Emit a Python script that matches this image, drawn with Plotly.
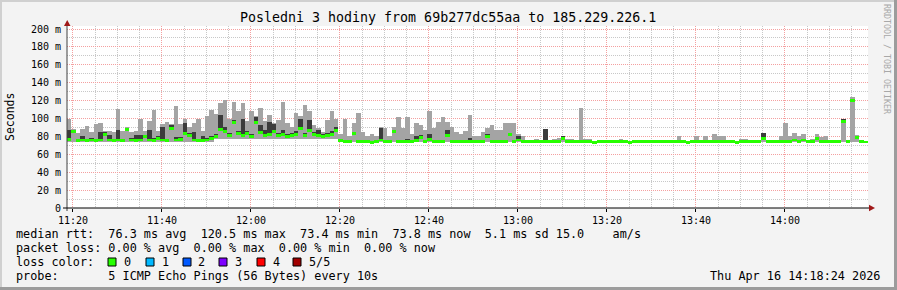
import numpy as np
import pandas as pd
import plotly.graph_objects as go

# ---------------- data ----------------
start_time = "2026-04-16 11:18:40"
end_time = "2026-04-16 14:18:40"

# median rtt per minute (ms)
median_ms = [
    77, 85, 75, 76, 75, 76, 75, 76, 82, 76,
    75, 76, 75, 88, 76, 75, 76, 80, 76, 75,
    78, 76, 75, 89, 76, 77, 83, 81, 76, 75,
    75, 76, 78, 80, 88, 85, 81, 96, 83, 81,
    83, 80, 96, 84, 81, 82, 85, 81, 82, 80,
    81, 82, 89, 81, 87, 82, 81, 80, 81, 82,
    87, 75, 74, 74, 83, 74, 74, 74, 73.5, 74,
    76, 74, 74, 85, 74, 74, 74, 74, 75, 79,
    74, 77, 74, 74, 74, 81, 74, 74, 74, 74,
    74, 74, 74, 74, 80, 74, 74, 74, 74, 82,
    74, 76, 74, 74, 74, 74, 74, 74, 74, 74,
    74, 78, 74, 74, 74, 74, 74, 74, 73.5, 74,
    74, 74, 74, 74, 74, 74, 73.5, 74, 74, 74,
    74, 74, 74, 74, 74, 74, 74, 74, 74, 73.5,
    74, 74, 74, 74, 74, 74, 74, 74, 74, 74,
    73.5, 74, 74, 74, 74, 74, 78, 74, 74, 74,
    74, 74, 74, 76, 74, 76, 74, 74, 78, 74,
    74, 74, 74, 74, 96.5, 74, 120.5, 79, 74, 73.8,
]

# highest ping per minute (top of light smoke)
smoke_max = [
    100, 88, 84, 88, 92, 85, 94, 95, 86, 86,
    85, 111, 86, 90, 85, 86, 99, 86, 97, 109,
    86, 94, 96, 94, 114, 94, 99, 90, 95, 100,
    86, 103, 110, 105, 117, 121, 99, 119, 108, 117,
    97, 108, 103, 112, 97, 104, 95, 98, 118, 95,
    91, 106, 103, 115, 108, 93, 89, 85, 98, 108,
    100, 83, 100, 81, 95, 106, 85, 80, 83, 80,
    91, 89, 80, 90, 102, 89, 102, 83, 95, 93,
    87, 108, 89, 96, 102, 96, 91, 85, 83, 86,
    104, 81, 80, 85, 89, 93, 87, 87, 95, 95,
    95, 83, 80, 76, 76, 77, 76, 88, 76, 77,
    78, 81, 77, 77, 76, 112, 77, 77, 75, 75,
    75, 75, 76, 75, 77, 75, 75, 75, 75, 75,
    76, 75, 75, 75, 75, 75, 75, 80, 76, 75,
    75, 80, 75, 80, 76, 83, 80, 80, 76, 75,
    75, 77, 77, 75, 75, 76, 84, 75, 75, 76,
    80, 95, 80, 84, 80, 83, 76, 77, 83, 79,
    80, 75, 75, 76, 100, 76, 124, 82, 75, 75,
]

# upper edge of the dark (inner) smoke band
smoke_inner = [
    87, 86, 77, 80, 77, 78, 77, 85, 85, 82,
    77, 87, 77, 89, 78, 82, 82, 82, 87, 78,
    80, 91, 77, 93, 79, 79, 95, 84, 85, 77,
    81, 78, 80, 83, 104, 90, 84, 98, 86, 100,
    86, 83, 102, 93, 87, 96, 94, 84, 87, 83,
    84, 86, 100, 84, 98, 85, 87, 83, 84, 86,
    91, 76, 75, 75, 85, 76, 75, 75, 75, 75,
    89, 76, 75, 87, 76, 75, 77, 75, 81, 82,
    75, 83, 75, 76, 76, 87, 75, 75, 75, 76,
    78, 75, 75, 76, 83, 76, 75, 76, 76, 83,
    76, 80, 75, 74.5, 74.5, 74.5, 74.5, 88, 74.5, 74.5,
    74.5, 81, 74.5, 74.5, 74.5, 74.5, 74.5, 74.5, 74.5, 74.5,
    74.5, 74.5, 74.5, 74.5, 74.5, 74.5, 74.5, 74.5, 74.5, 74.5,
    74.5, 74.5, 74.5, 74.5, 74.5, 74.5, 74.5, 74.5, 74.5, 74.5,
    74.5, 74.5, 74.5, 74.5, 74.5, 74.5, 74.5, 74.5, 74.5, 74.5,
    74.5, 74.5, 74.5, 74.5, 74.5, 74.5, 84, 74.5, 74.5, 74.5,
    74.5, 76, 74.5, 77, 74.5, 77, 74.5, 74.5, 79, 74.5,
    74.5, 74.5, 74.5, 74.5, 99, 74.5, 122, 80, 74.5, 74.5,
]

# lowest ping per minute (bottom of smoke)
smoke_min = [
    73.8, 73.8, 73.8, 73.8, 73.8, 73.8, 73.8, 73.8, 73.8, 73.8,
    73.8, 73.8, 73.8, 73.8, 73.8, 73.8, 73.8, 73.8, 73.8, 73.8,
    73.8, 73.8, 73.8, 73.8, 73.8, 73.8, 73.8, 73.8, 73.8, 73.8,
    73.8, 73.8, 73.8, 77.5, 77.5, 77.5, 77.5, 77.5, 77.5, 77.5,
    77.5, 77.5, 77.5, 77.5, 77.5, 77.5, 77.5, 77.5, 77.5, 77.5,
    77.5, 77.5, 77.5, 77.5, 77.5, 77.5, 77.5, 77.5, 77.5, 77.5,
    77.5, 73.4, 73.4, 73.4, 73.4, 73.4, 73.4, 73.4, 73.4, 73.4,
    73.4, 73.4, 73.4, 73.4, 73.4, 73.4, 73.4, 73.4, 73.4, 73.4,
    73.4, 73.4, 73.4, 73.4, 73.4, 73.4, 73.4, 73.4, 73.4, 73.4,
    73.4, 73.4, 73.4, 73.4, 73.4, 73.4, 73.4, 73.4, 73.4, 73.4,
    73.4, 73.4, 73.4, 73.4, 73.4, 73.4, 73.4, 73.4, 73.4, 73.4,
    73.4, 73.4, 73.4, 73.4, 73.4, 73.4, 73.4, 73.4, 73.4, 73.4,
    73.4, 73.4, 73.4, 73.4, 73.4, 73.4, 73.4, 73.4, 73.4, 73.4,
    73.4, 73.4, 73.4, 73.4, 73.4, 73.4, 73.4, 73.4, 73.4, 73.4,
    73.4, 73.4, 73.4, 73.4, 73.4, 73.4, 73.4, 73.4, 73.4, 73.4,
    73.4, 73.4, 73.4, 73.4, 73.4, 73.4, 73.4, 73.4, 73.4, 73.4,
    73.4, 73.4, 73.4, 73.4, 73.4, 73.4, 73.4, 73.4, 73.4, 73.4,
    73.4, 73.4, 73.4, 73.4, 73.4, 73.4, 73.4, 73.4, 73.4, 73.4,
]

y_tick_values = [0, 20, 40, 60, 80, 100, 120, 140, 160, 180, 200]
y_tick_labels = ["0", "20 m", "40 m", "60 m", "80 m", "100 m", "120 m",
                 "140 m", "160 m", "180 m", "200 m"]

title_text = "Posledni 3 hodiny from 69b277dc55aa to 185.229.226.1"
row_median = "median rtt:  76.3 ms avg  120.5 ms max  73.4 ms min  73.8 ms now  5.1 ms sd 15.0    am/s"
row_loss = "packet loss: 0.00 % avg  0.00 % max  0.00 % min  0.00 % now"
row_color = "loss color:"
row_probe = "probe:       5 ICMP Echo Pings (56 Bytes) every 10s"
date_text = "Thu Apr 16 14:18:24 2026"
loss_labels = ["0", "1", "2", "3", "4", "5/5"]
loss_colors = ["#26ff00", "#00b8ff", "#0059ff", "#7e00ff", "#ff0000", "#a10000"]

# ---------------- figure ----------------
W, H = 897, 290
L, R, T, B = 67, 868, 26, 208
MONO = "DejaVu Sans Mono"


def px(x):
    return (x - L) / (R - L)


def py(y):
    return (B - y) / (B - T)


def nb(s):
    return s.replace(" ", "\u00a0")


times = pd.date_range(start_time, periods=len(median_ms), freq="min")
med = np.array(median_ms, dtype=float)
hi = np.array(smoke_max, dtype=float)
inner = np.array(smoke_inner, dtype=float)
lo = np.array(smoke_min, dtype=float)
STEP = 60000
HALF = 1.6

fig = go.Figure()
fig.add_trace(go.Bar(x=times, y=hi - lo, base=lo, offset=0, width=STEP,
                     marker=dict(color="#a4a4a4", line=dict(width=0)),
                     hoverinfo="skip"))
fig.add_trace(go.Bar(x=times, y=inner - med, base=med, offset=0, width=STEP,
                     marker=dict(color="#3c3c3c", line=dict(width=0)),
                     hoverinfo="skip"))
fig.add_trace(go.Bar(x=times, y=np.full(len(med), 2 * HALF), base=med - HALF,
                     offset=0, width=STEP,
                     marker=dict(color=loss_colors[0], line=dict(width=0)),
                     hoverinfo="skip"))

shapes = []
# frame
shapes.append(dict(type="rect", xref="paper", yref="paper", x0=px(0), x1=px(W),
                   y0=py(0), y1=py(2), fillcolor="#d0d0d0", line=dict(width=0), layer="above"))
shapes.append(dict(type="rect", xref="paper", yref="paper", x0=px(0), x1=px(2),
                   y0=py(0), y1=py(H), fillcolor="#d0d0d0", line=dict(width=0), layer="above"))
shapes.append(dict(type="rect", xref="paper", yref="paper", x0=px(W - 3), x1=px(W),
                   y0=py(0), y1=py(H), fillcolor="#9c9c9c", line=dict(width=0), layer="above"))
shapes.append(dict(type="rect", xref="paper", yref="paper", x0=px(0), x1=px(W),
                   y0=py(H - 3), y1=py(H), fillcolor="#9c9c9c", line=dict(width=0), layer="above"))
# axis lines
shapes.append(dict(type="line", xref="paper", yref="paper", x0=px(67), x1=px(67),
                   y0=py(211), y1=py(24), line=dict(color="#404040", width=1), layer="above"))
shapes.append(dict(type="line", xref="paper", yref="paper", x0=px(63), x1=px(871),
                   y0=py(208), y1=py(208), line=dict(color="#000000", width=1), layer="above"))
# arrows
shapes.append(dict(type="path", xref="paper", yref="paper",
                   path=f"M {px(64)},{py(26)} L {px(70.5)},{py(26)} L {px(67.2)},{py(20)} Z",
                   fillcolor="#a01818", line=dict(width=0), layer="above"))
shapes.append(dict(type="path", xref="paper", yref="paper",
                   path=f"M {px(869)},{py(204.8)} L {px(869)},{py(211.2)} L {px(875)},{py(208)} Z",
                   fillcolor="#a01818", line=dict(width=0), layer="above"))
# loss colour boxes
box_x = [108, 146, 183, 219, 257, 293]
for bx, col in zip(box_x, loss_colors):
    shapes.append(dict(type="rect", xref="paper", yref="paper", x0=px(bx), x1=px(bx + 8),
                       y0=py(258), y1=py(266), fillcolor=col,
                       line=dict(color="#000000", width=1), layer="above"))

ann = []
ann.append(dict(text=nb(title_text), x=px(448), y=py(18), xref="paper", yref="paper",
                xanchor="center", yanchor="middle", showarrow=False,
                font=dict(family=MONO, size=13.3, color="#000")))
ann.append(dict(text="Seconds", x=px(10), y=py(117), xref="paper", yref="paper",
                xanchor="center", yanchor="middle", textangle=-90, showarrow=False,
                font=dict(family=MONO, size=11.5, color="#000")))
ann.append(dict(text=nb("RRDTOOL / TOBI OETIKER"), x=px(887), y=py(59), xref="paper", yref="paper",
                xanchor="center", yanchor="middle", textangle=90, showarrow=False,
                font=dict(family=MONO, size=8.3, color="#a8a8a8")))
for txt, yy in [(row_median, 234), (row_loss, 248), (row_color, 262), (row_probe, 276)]:
    ann.append(dict(text=nb(txt), x=px(14), y=py(yy), xref="paper", yref="paper",
                    xanchor="left", yanchor="middle", showarrow=False,
                    font=dict(family=MONO, size=11.8, color="#000")))
label_x = [122, 160, 196, 233, 271, 307]
for lx, lab in zip(label_x, loss_labels):
    ann.append(dict(text=lab, x=px(lx), y=py(262), xref="paper", yref="paper",
                    xanchor="left", yanchor="middle", showarrow=False,
                    font=dict(family=MONO, size=11.8, color="#000")))
ann.append(dict(text=nb(date_text), x=px(882), y=py(276), xref="paper", yref="paper",
                xanchor="right", yanchor="middle", showarrow=False,
                font=dict(family=MONO, size=11.8, color="#000")))

fig.update_layout(
    width=W, height=H, autosize=False,
    margin=dict(l=L, r=W - R, t=T, b=H - B, pad=0),
    paper_bgcolor="#f3f3f3", plot_bgcolor="#ffffff",
    barmode="overlay", bargap=0, showlegend=False,
    shapes=shapes, annotations=ann,
    xaxis=dict(type="date", range=[start_time, end_time],
               tick0="2026-04-16 11:20:00", dtick=1200000, tickformat="%H:%M",
               showgrid=True, gridcolor="#f4a0a0", griddash="1px,1px", gridwidth=1,
               minor=dict(dtick=300000, tick0="2026-04-16 11:20:00", showgrid=True,
                          gridcolor="#c8c8c8", griddash="1px,1px", gridwidth=1),
               ticks="outside", ticklen=3, tickcolor="#000",
               showline=False, zeroline=False,
               tickfont=dict(family=MONO, size=10, color="#000")),
    yaxis=dict(range=[0, 200 * (B - T) / 179], tickmode="array",
               tickvals=y_tick_values, ticktext=y_tick_labels,
               showgrid=True, gridcolor="#f4a0a0", griddash="1px,1px", gridwidth=1,
               minor=dict(tickmode="linear", tick0=0, dtick=10, showgrid=True,
                          gridcolor="#c8c8c8", griddash="1px,1px", gridwidth=1),
               ticks="", ticklabelstandoff=5, showline=False, zeroline=False,
               tickfont=dict(family=MONO, size=10, color="#000")),
)

fig.write_html("out.html")
